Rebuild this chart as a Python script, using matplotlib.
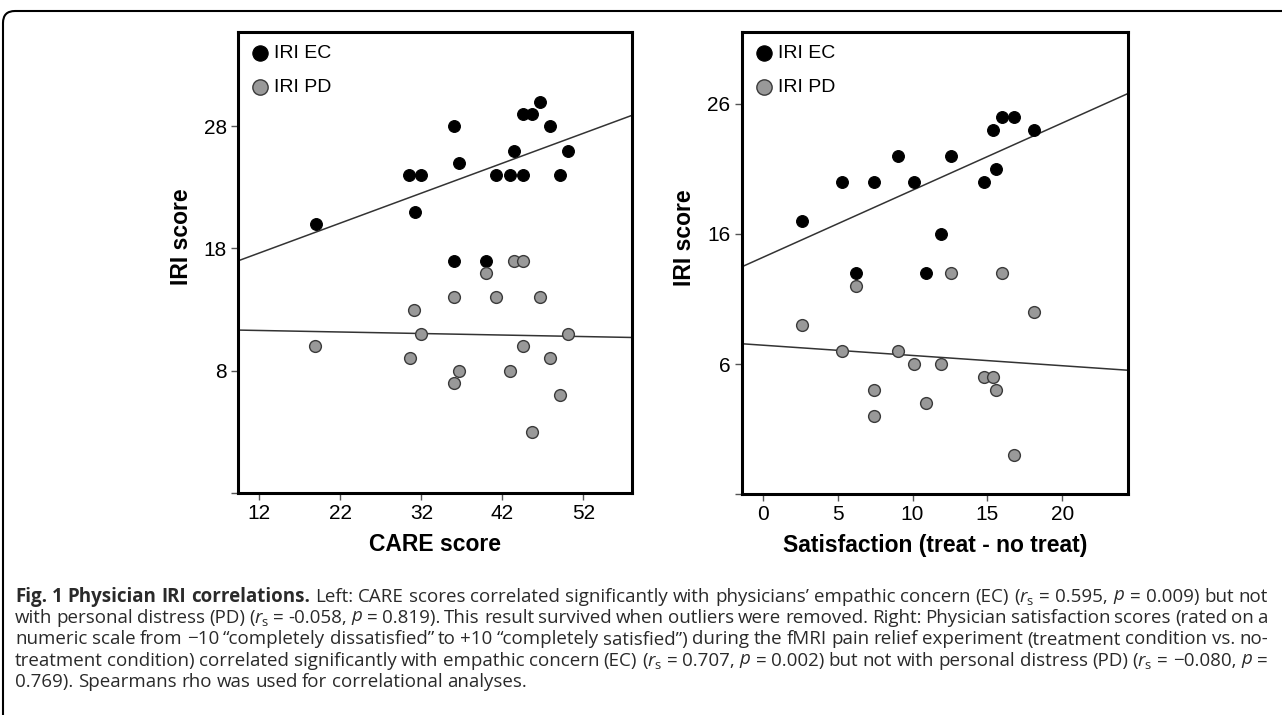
import numpy as np
import matplotlib
matplotlib.use("Agg")
import matplotlib.pyplot as plt
from matplotlib.patches import FancyBboxPatch

# left panel: CARE score vs IRI
care_ec_x = [19, 30.5, 32, 31.2, 36, 36.7, 36, 40, 41.2, 43, 44.5, 49.1, 43.4, 44.5, 45.7, 46.6, 47.9, 50.1]
care_ec_y = [20, 24, 24, 21, 28, 25, 17, 17, 24, 24, 24, 24, 26, 29, 29, 30, 28, 26]
care_pd_x = [18.9, 30.6, 31.1, 32, 36, 36.7, 36, 40, 41.2, 43, 43.4, 44.5, 44.5, 46.6, 47.9, 49.1, 45.7, 50.1]
care_pd_y = [10, 9, 13, 11, 14, 8, 7, 16, 14, 8, 17, 17, 10, 14, 9, 6, 3, 11]

# right panel: satisfaction vs IRI
sat_ec_x = [2.6, 5.3, 7.4, 9, 10.1, 12.6, 14.8, 15.6, 15.4, 16, 16.8, 18.1, 11.9, 6.2, 10.9]
sat_ec_y = [17, 20, 20, 22, 20, 22, 20, 21, 24, 25, 25, 24, 16, 13, 13]
sat_pd_x = [12.6, 16, 6.2, 2.6, 5.3, 9, 10.1, 11.9, 7.4, 7.4, 10.9, 14.8, 15.4, 15.6, 16.8, 18.1]
sat_pd_y = [13, 13, 12, 9, 7, 7, 6, 6, 4, 2, 3, 5, 5, 4, -1, 10]

care_xticks = [12, 22, 32, 42, 52]
care_yticks = [-2, 8, 18, 28]
sat_xticks = [0, 5, 10, 15, 20]
sat_yticks = [-4, 6, 16, 26]

caption_bold = "Fig. 1 Physician IRI correlations."
caption_lines = [
    r"Left: CARE scores correlated significantly with physicians’ empathic concern (EC) ($r_\mathrm{s}$ = 0.595, $p$ = 0.009) but not",
    r"with personal distress (PD) ($r_\mathrm{s}$ = -0.058, $p$ = 0.819). This result survived when outliers were removed. Right: Physician satisfaction scores (rated on a",
    r"numeric scale from −10 “completely dissatisfied” to +10 “completely satisfied”) during the fMRI pain relief experiment (treatment condition vs. no-",
    r"treatment condition) correlated significantly with empathic concern (EC) ($r_\mathrm{s}$ = 0.707, $p$ = 0.002) but not with personal distress (PD) ($r_\mathrm{s}$ = −0.080, $p$ =",
    r"0.769). Spearmans rho was used for correlational analyses.",
]

cap_font = 'Open Sans'
plt.rcParams['font.family'] = ['Liberation Sans', 'DejaVu Sans']
plt.rcParams['mathtext.fontset'] = 'custom'
plt.rcParams['mathtext.rm'] = cap_font
plt.rcParams['mathtext.it'] = cap_font + ':italic'
plt.rcParams['mathtext.bf'] = cap_font + ':bold'

W, H = 1282, 715
fig = plt.figure(figsize=(W / 100, H / 100), dpi=100)


def panel(ax, ec_x, ec_y, pd_x, pd_y, xlim, ylim, xticks, yticks, xlabel):
    ax.scatter(ec_x, ec_y, s=72, color='black', edgecolor='black', linewidth=0.8, zorder=3, label='IRI EC')
    ax.scatter(pd_x, pd_y, s=72, color='#999999', edgecolor='#3a3a3a', linewidth=1.0, zorder=3, label='IRI PD')
    xs = np.array(xlim)
    for xx, yy in [(ec_x, ec_y), (pd_x, pd_y)]:
        coef = np.polyfit(xx, yy, 1)
        ax.plot(xs, np.polyval(coef, xs), color='#333333', lw=1.1, zorder=2)
    ax.set_xlim(xlim)
    ax.set_ylim(ylim)
    ax.set_xticks(xticks)
    ax.set_yticks(yticks)
    ax.set_yticklabels([''] + [str(t) for t in yticks[1:]])
    ax.tick_params(axis='both', labelsize=15, length=5, width=1, color='#555555', pad=3, direction='out')
    for s in ax.spines.values():
        s.set_linewidth(2.2)
        s.set_color('black')
    ax.set_xlabel(xlabel, fontsize=16.5, fontweight='bold', labelpad=7)
    ax.set_ylabel('IRI score', fontsize=16.5, fontweight='bold', labelpad=8)
    ax.yaxis.label.set_y(0.555)
    ax.legend(loc='upper left', frameon=False, fontsize=14, handletextpad=0.2,
              handlelength=1.0, labelspacing=0.85, borderaxespad=0.2, borderpad=0.45,
              scatterpoints=1, markerscale=1.3)


ax1 = fig.add_axes([238 / W, 1 - 493 / H, (632 - 238) / W, (493 - 32) / H])
panel(ax1, care_ec_x, care_ec_y, care_pd_x, care_pd_y, (9.37, 58.0), (-2, 35.7),
      care_xticks, care_yticks, 'CARE score')

ax2 = fig.add_axes([741.7 / W, 1 - 494.3 / H, (1128.3 - 741.7) / W, (494.3 - 32) / H])
panel(ax2, sat_ec_x, sat_ec_y, sat_pd_x, sat_pd_y, (-1.4, 24.4), (-4, 31.5),
      sat_xticks, sat_yticks, 'Satisfaction (treat - no treat)')

# outer frame with rounded top-left corner
frame = FancyBboxPatch((0.03, -1.0), 14.0, 7.15 - 0.11 + 1.0,
                       boxstyle="round,pad=0,rounding_size=0.12",
                       transform=fig.dpi_scale_trans, fill=False,
                       edgecolor='black', linewidth=1.5, clip_on=False)
fig.add_artist(frame)

# justified caption
renderer = fig.canvas.get_renderer()
x_left, x_right = 15, 1268
for i, line in enumerate(caption_lines):
    y = 1 - (596.7 + i * 21.4) / H
    words = [(w, 'normal') for w in line.split(' ')]
    if i == 0:
        words = [(w, 'bold') for w in caption_bold.split(' ')] + words
    texts = [fig.text(0, y, w, fontsize=13.5, family=[cap_font, 'DejaVu Sans'], fontweight=wt,
                      color='#2a2a2a', va='center', ha='left') for w, wt in words]
    widths = [t.get_window_extent(renderer).width for t in texts]
    if i < len(caption_lines) - 1:
        gap = (x_right - x_left - sum(widths)) / (len(words) - 1)
    else:
        gap = 4.7
    x = x_left
    for t, w in zip(texts, widths):
        t.set_x(x / W)
        x += w + gap

fig.savefig('out.png', dpi=100)
